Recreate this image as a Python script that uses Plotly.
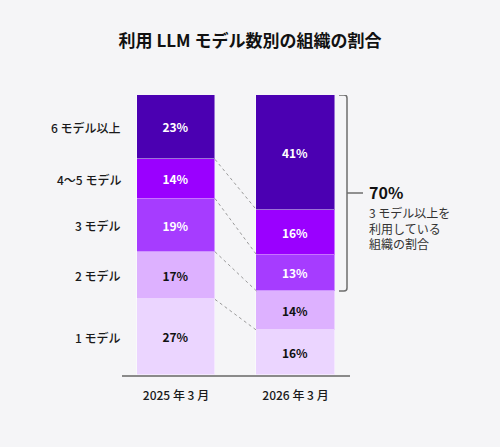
import plotly.graph_objects as go
import numpy as np

# ---- data ----
periods = ["2025 年 3 月", "2026 年 3 月"]
categories = ["1 モデル", "2 モデル", "3 モデル", "4〜5 モデル", "6 モデル以上"]
share_2025 = [27, 17, 19, 14, 23]
share_2026 = [16, 14, 13, 16, 41]
colors = ["#EBD5FF", "#DDB1FF", "#A63CFF", "#9A00FF", "#4B00B2"]
text_colors = ["#111111", "#111111", "#FFFFFF", "#FFFFFF", "#FFFFFF"]
bracket_value = "70%"
bracket_lines = ["3 モデル以上を", "利用している", "組織の割合"]
title_text = "利用 LLM モデル数別の組織の割合"

FONT = "Noto Sans CJK JP, Noto Sans, sans-serif"
BG = "#F5F5F7"
W, H = 500, 447
ML, MR, MT, MB = 122, 150, 95, 72
xpos = [0, 1]
xr = [-0.452, 1.456]
bw = 0.653

fig = go.Figure()
for i, cat in enumerate(categories):
    vals = [share_2025[i], share_2026[i]]
    fig.add_trace(go.Bar(
        x=xpos, y=vals, width=bw, name=cat,
        marker=dict(color=colors[i], line=dict(color="rgba(255,255,255,0.45)", width=1)),
        text=[f"<b>{v}%</b>" for v in vals],
        textposition="inside", insidetextanchor="middle",
        textfont=dict(family=FONT, size=12, color=text_colors[i]),
        hoverinfo="skip", showlegend=False,
    ))

# connector dotted lines between segment boundaries
cum25 = np.cumsum(share_2025)
cum26 = np.cumsum(share_2026)
for k in range(len(categories) - 1):
    fig.add_shape(type="line", xref="x", yref="y",
                  x0=xpos[0] + bw / 2, y0=cum25[k], x1=xpos[1] - bw / 2, y1=cum26[k],
                  line=dict(color="#9A9A9A", width=1, dash="dot"))

# left category labels at mid of 2025 segments
mids25 = cum25 - np.array(share_2025) / 2
for cat, m in zip(categories, mids25):
    fig.add_annotation(xref="paper", yref="y", x=0.005, y=m, text=cat,
                       xanchor="right", yanchor="middle", showarrow=False,
                       font=dict(family=FONT, size=12, color="#1A1A1A", weight=500))

# bracket for 3+ models in 2026
pw = W - ML - MR
ph = H - MT - MB
pxu = ph / 100  # pixels per y unit
top = cum26[-1]
bot = cum26[1]
xa, xb, xt = (339 - ML) / pw, (347 - ML) / pw, (363 - ML) / pw
rx = 3 / pw
ry = 3 / pxu
path = (f"M {xa},{top} L {xb - rx},{top} Q {xb},{top} {xb},{top - ry} "
        f"L {xb},{bot + ry} Q {xb},{bot} {xb - rx},{bot} L {xa},{bot}")
fig.add_shape(type="path", xref="paper", yref="y", path=path,
              line=dict(color="#6E6E6E", width=1.5))
midb = (top + bot) / 2
fig.add_shape(type="line", xref="paper", yref="y", x0=xb, x1=xt, y0=midb, y1=midb,
              line=dict(color="#6E6E6E", width=1.5))
tx = (367 - ML) / pw
fig.add_annotation(xref="paper", yref="y", x=tx, y=midb + 1 / pxu, text=f"<b>{bracket_value}</b>",
                   xanchor="left", yanchor="middle", showarrow=False,
                   font=dict(family=FONT, size=16, color="#111111"))
fig.add_annotation(xref="paper", yref="y", x=tx, y=midb - 9 / pxu, text="<br>".join(bracket_lines),
                   xanchor="left", yanchor="top", showarrow=False, align="left",
                   font=dict(family=FONT, size=12, color="#333333"))

fig.update_layout(
    width=W, height=H, barmode="stack", bargap=0,
    paper_bgcolor=BG, plot_bgcolor=BG,
    margin=dict(l=ML, r=MR, t=MT, b=MB),
    title=dict(text=f"<b>{title_text}</b>", x=0.5, xanchor="center", y=1 - 41 / H, yanchor="middle",
               font=dict(family=FONT, size=17, color="#111111")),
    xaxis=dict(range=xr, tickvals=xpos, ticktext=periods, showgrid=False, zeroline=False,
               showline=True, linecolor="#8A8A8A", linewidth=2, ticks="",
               tickfont=dict(family=FONT, size=12, color="#1A1A1A", weight=500),
               ticklabelstandoff=9),
    yaxis=dict(range=[0, 100], visible=False, showgrid=False, zeroline=False),
)

fig.write_html("out.html")
